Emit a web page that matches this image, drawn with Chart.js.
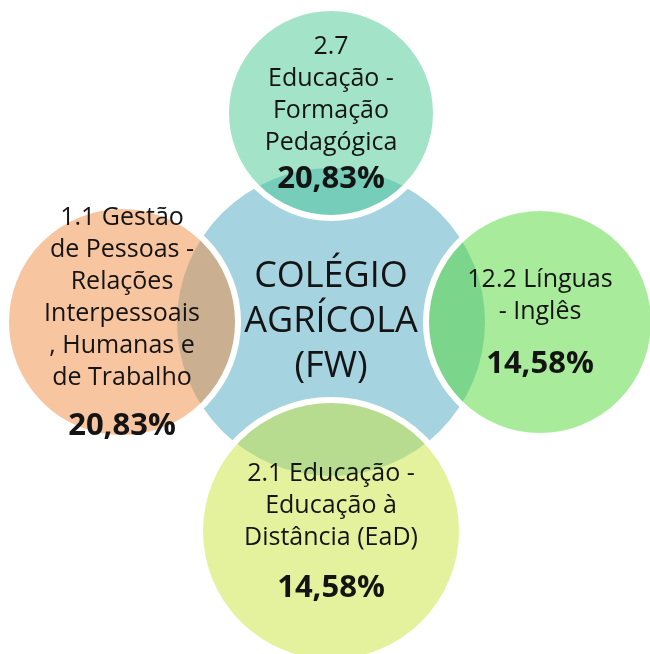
<!DOCTYPE html>
<html>
<head>
<meta charset="utf-8">
<script src="https://cdn.jsdelivr.net/npm/chart.js@4.4.1/dist/chart.umd.min.js"></script>
<style>
  html, body { margin: 0; padding: 0; background: #fff; }
  #wrap { width: 650px; height: 654px; }
</style>
</head>
<body>
<div id="wrap"><canvas id="chart"></canvas></div>
<script>
const hubLabel = ["COLÉGIO", "AGRÍCOLA", "(FW)"];
// clockwise, starting at the top circle
const categories = [
  ["2.7", "Educação -", "Formação", "Pedagógica"],
  ["12.2 Línguas", "- Inglês"],
  ["2.1 Educação -", "Educação à", "Distância (EaD)"],
  ["1.1 Gestão", "de Pessoas -", "Relações", "Interpessoais", ", Humanas e", "de Trabalho"],
];
const percentages = [20.83, 14.58, 14.58, 20.83];

// layout / style
const fills = ["rgba(71,201,147,0.5)", "rgba(81,217,55,0.5)", "rgba(201,229,61,0.5)", "rgba(239,139,65,0.5)"];
const radii = [105, 114, 131, 116];
const pctGap = [37, 52, 50, 49];
const ORBIT = 209;
const HUB_R = 154;
const LINE_H = 32;

function fmtPct(v) {
  return v.toFixed(2).replace(".", ",") + "%";
}

const satellites = categories.map((c, i) => ({
  x: Math.round(ORBIT * Math.sin(i * Math.PI / 2)),
  y: Math.round(ORBIT * Math.cos(i * Math.PI / 2)),
  r: radii[i],
}));

const labelsPlugin = {
  id: "labels",
  afterDatasetsDraw(chart) {
    const ctx = chart.ctx;
    ctx.save();
    ctx.fillStyle = "#141414";
    ctx.textAlign = "center";
    ctx.textBaseline = "middle";

    const hub = chart.getDatasetMeta(1).data[0];
    ctx.font = "36px 'Open Sans'";
    hubLabel.forEach((line, k) => {
      ctx.fillText(line, hub.x, hub.y + (k - (hubLabel.length - 1) / 2) * 45);
    });

    chart.getDatasetMeta(0).data.forEach((pt, i) => {
      const lines = categories[i];
      const block = (lines.length - 1) * LINE_H + pctGap[i];
      const top = pt.y - block / 2;
      ctx.font = "25px 'Open Sans'";
      lines.forEach((line, k) => ctx.fillText(line, pt.x, top + k * LINE_H));
      ctx.font = "bold 31px 'Open Sans'";
      ctx.fillText(fmtPct(percentages[i]), pt.x, top + (lines.length - 1) * LINE_H + pctGap[i]);
    });
    ctx.restore();
  },
};

new Chart(document.getElementById("chart"), {
  type: "bubble",
  data: {
    datasets: [
      {
        data: satellites,
        backgroundColor: fills,
        borderColor: "#ffffff",
        borderWidth: 6,
        order: 1,
      },
      {
        data: [{ x: 0, y: 0, r: HUB_R }],
        backgroundColor: "#a5d3e0",
        borderWidth: 0,
        order: 2,
      },
    ],
  },
  options: {
    responsive: true,
    maintainAspectRatio: false,
    animation: false,
    events: [],
    layout: { padding: 0, autoPadding: false },
    plugins: { legend: { display: false }, tooltip: { enabled: false } },
    scales: {
      x: { type: "linear", display: false, min: -331, max: 319 },
      y: { type: "linear", display: false, min: -332, max: 322 },
    },
  },
  plugins: [labelsPlugin],
});
</script>
</body>
</html>
